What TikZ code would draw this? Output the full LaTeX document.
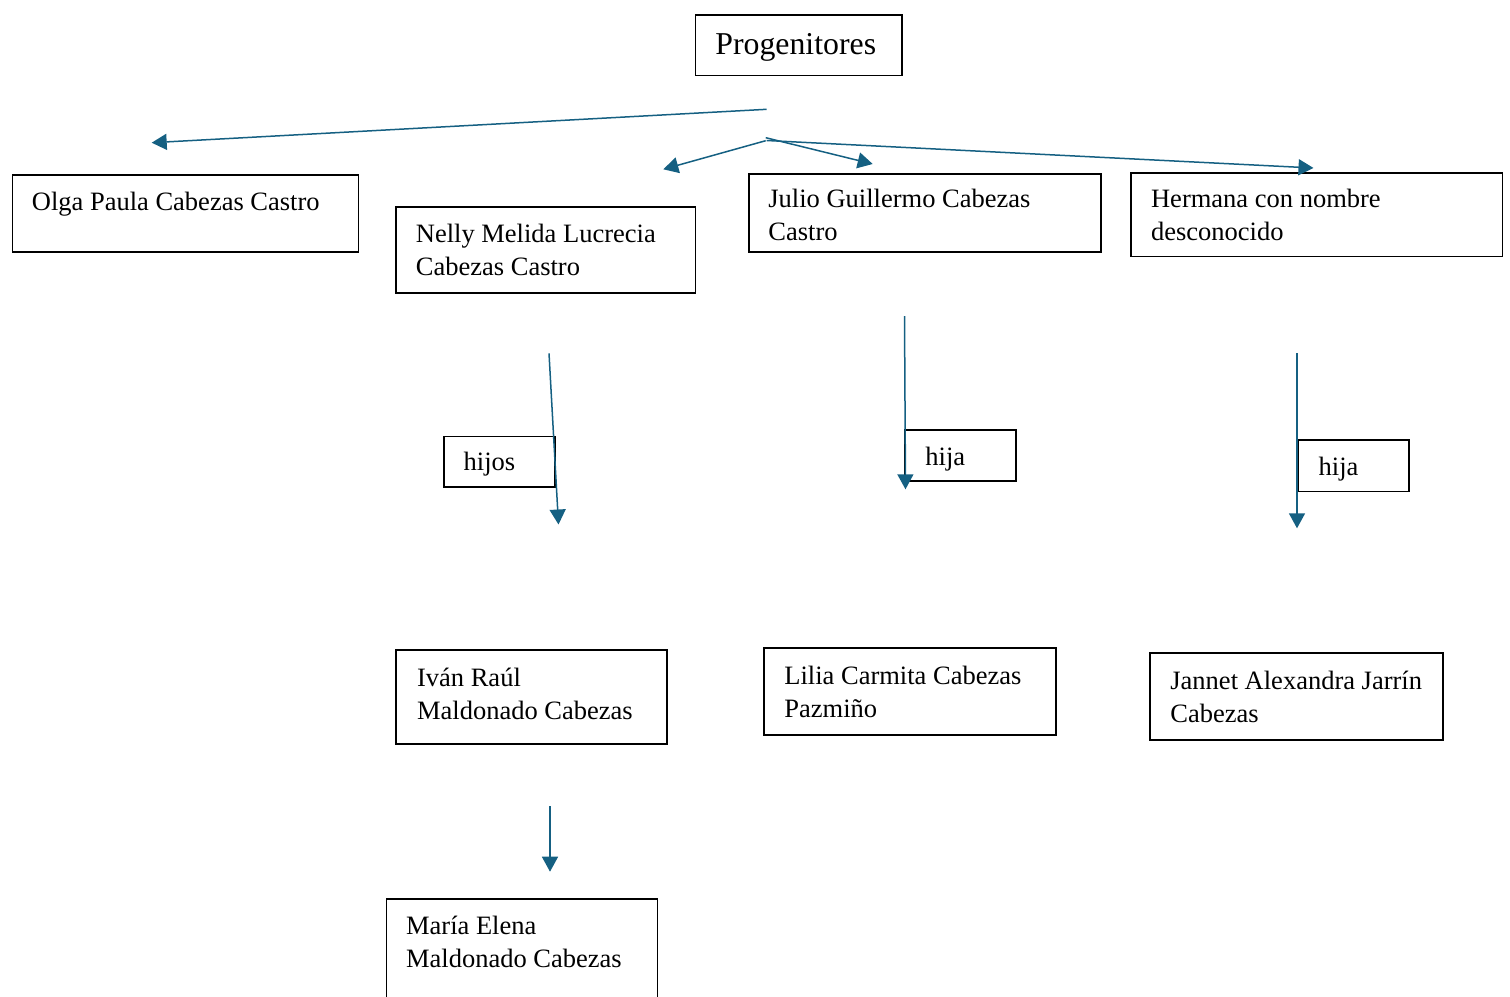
\documentclass[tikz,border=0pt]{standalone}
\usepackage{fontspec}
\setmainfont{Liberation Serif}
\usetikzlibrary{arrows.meta}
\definecolor{arrowblue}{HTML}{156082}
\tikzset{
  box/.style={draw=black, line width=0.75pt, inner sep=0pt, anchor=north west, rectangle},
  txt/.style={inner sep=0pt, anchor=north west, align=left, font=\fontsize{13.25}{16.5}\selectfont},
  bigtxt/.style={inner sep=0pt, anchor=north west, align=left, font=\fontsize{15.9}{19}\selectfont},
  conn/.style={draw=arrowblue, line width=0.75pt, -{Triangle[length=7.5pt,width=8pt]}}
}
\newcommand{\bx}[5]{\node[box, minimum width=#3*0.5pt, minimum height=#4*0.5pt] (#5) at (#1,#2) {};}
\begin{document}
\begin{tikzpicture}[x=0.5pt,y=-0.5pt]
\useasboundingbox (0,0) rectangle (1510,996);
\clip (0,0) rectangle (1510,996);
% boxes
\bx{694.7}{14}{206.6}{60.7}{progb}
\bx{11.5}{174}{346}{77}{olgab}
\bx{395}{206}{299.5}{86}{nellyb}
\bx{748}{173}{352}{78}{juliob}
\bx{1130}{172.3}{371.7}{83.4}{hermb}
\bx{443.3}{435.7}{111}{50.6}{hijosb}
\bx{904.3}{429}{110.7}{51.3}{hija1b}
\bx{1297.3}{439.3}{111}{51.4}{hija2b}
\bx{395.3}{649.3}{270.7}{94}{ivanb}
\bx{763}{647}{292}{87}{liliab}
\bx{1149}{652}{293}{87}{jannetb}
\bx{385.7}{898.3}{271}{120}{mariab}
% texts
\node[bigtxt] (progt) at (715,27.4) {\strut Progenitores};
\node[txt] (olgat) at (31.5,186.9) {\strut Olga Paula Cabezas Castro};
\node[txt] (nellyt) at (415.5,218.9) {\strut Nelly Melida Lucrecia\\Cabezas Castro};
\node[txt] (juliot) at (768,184.2) {\strut Julio Guillermo Cabezas\\Castro};
\node[txt] (hermt) at (1150.7,184.2) {\strut Hermana con nombre\\desconocido};
\node[txt] (hijost) at (463.3,446.9) {\strut hijos};
\node[txt] (hija1t) at (925,441.9) {\strut hija};
\node[txt] (hija2t) at (1318.3,451.9) {\strut hija};
\node[txt] (ivant) at (416.7,663.4) {\strut Iván Raúl\\Maldonado Cabezas};
\node[txt] (liliat) at (784,660.9) {\strut Lilia Carmita Cabezas\\Pazmiño};
\node[txt] (jannett) at (1170,665.9) {\strut Jannet Alexandra Jarrín\\Cabezas};
\node[txt] (mariat) at (405.7,910.9) {\strut María Elena\\Maldonado Cabezas};
% connector end points
\coordinate (p1) at (766.7,109.3); \coordinate (t1) at (151.7,142.7);
\coordinate (p2) at (765.7,140.7); \coordinate (t2) at (663.3,169.3);
\coordinate (p3) at (765.7,137.7); \coordinate (t3) at (872.7,164);
\coordinate (p4) at (766.7,140.5); \coordinate (t4) at (1313.5,168);
\coordinate (h1s) at (549,353.3); \coordinate (h1e) at (558.5,524.5);
\coordinate (h2s) at (904.5,316); \coordinate (h2e) at (905.5,489.3);
\coordinate (h3s) at (1297,353); \coordinate (h3e) at (1297,528.3);
\coordinate (h4s) at (550,806); \coordinate (h4e) at (550,871.7);
% connectors
\draw[conn] (p1) -- (t1);
\draw[conn] (p2) -- (t2);
\draw[conn] (p3) -- (t3);
\draw[conn] (p4) -- (t4);
\draw[conn] (h1s) -- (h1e);
\draw[conn] (h2s) -- (h2e);
\draw[conn] (h3s) -- (h3e);
\draw[conn] (h4s) -- (h4e);
\end{tikzpicture}
\end{document}
